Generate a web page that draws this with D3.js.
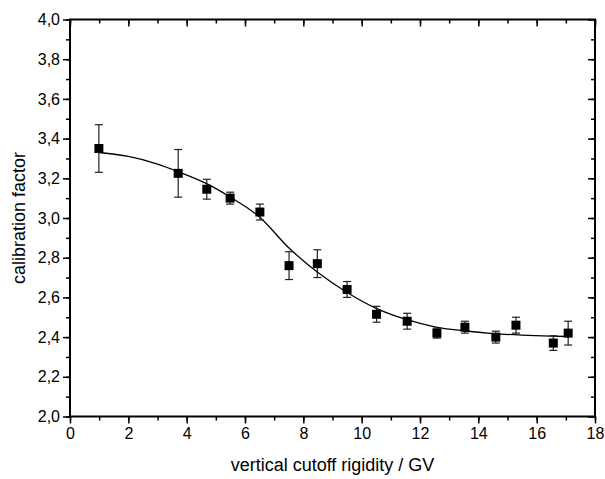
<!DOCTYPE html>
<html>
<head>
<meta charset="utf-8">
<script src="https://cdn.jsdelivr.net/npm/d3@7"></script>
<style>
  body { margin: 0; background: #fff; }
  svg { display: block; }
  text { font-family: "Liberation Sans", Arial, sans-serif; fill: #000; }
</style>
</head>
<body>
<div class="vis-chart"></div>
<script>
// measured points (vertical cutoff rigidity in GV, calibration factor, error)
const rigidity = [0.99, 3.71, 4.69, 5.49, 6.51, 7.51, 8.48, 9.5, 10.51, 11.56, 12.58, 13.54, 14.6, 15.29, 16.57, 17.08];
const calFactor = [3.35, 3.225, 3.145, 3.10, 3.03, 2.76, 2.77, 2.64, 2.515, 2.48, 2.42, 2.45, 2.40, 2.46, 2.37, 2.42];
const calError = [0.12, 0.12, 0.05, 0.03, 0.04, 0.07, 0.07, 0.04, 0.04, 0.04, 0.025, 0.03, 0.03, 0.04, 0.037, 0.06];

// fitted curve
const fitX = [1, 2, 3, 3.7, 4.7, 5.5, 6.5, 7.5, 8.5, 9.5, 10.5, 11.5, 12.5, 13.5, 14.5, 15.5, 16.5, 17.08];
const fitY = [3.330, 3.310, 3.272, 3.234, 3.172, 3.105, 3.005, 2.850, 2.725, 2.625, 2.545, 2.490, 2.452, 2.432, 2.418, 2.410, 2.405, 2.403];

const xTicks = [0, 2, 4, 6, 8, 10, 12, 14, 16, 18];
const yTicks = [2.0, 2.2, 2.4, 2.6, 2.8, 3.0, 3.2, 3.4, 3.6, 3.8, 4.0];

const margin = { top: 19.5, right: 10, bottom: 62.5, left: 70 };
const W = 605, H = 479;
const width = W - margin.left - margin.right;
const height = H - margin.top - margin.bottom;

const svg = d3.select(".vis-chart")
    .append("svg")
    .attr("width", W)
    .attr("height", H)
    .append("g")
    .attr("transform", "translate(" + margin.left + "," + margin.top + ")");

const x = d3.scaleLinear().domain([0, 18]).range([0, width]);
const y = d3.scaleLinear().domain([2.0, 4.0]).range([height, 0]);

const fmtY = d => d3.format(".1f")(d).replace(".", ",");
const minorX = d3.range(0, 18.01, 1);
const minorY = d3.range(2.0, 4.001, 0.1);

// minor ticks
svg.append("g").attr("class", "minor")
    .attr("transform", "translate(0," + height + ")")
    .call(d3.axisBottom(x).tickValues(minorX).tickSize(4).tickSizeOuter(0).tickFormat(""));
svg.append("g").attr("class", "minor")
    .call(d3.axisLeft(y).tickValues(minorY).tickSize(4).tickSizeOuter(0).tickFormat(""));
svg.append("g").attr("class", "minor")
    .call(d3.axisBottom(x).tickValues(minorX).tickSize(4).tickSizeOuter(0).tickFormat(""));
svg.append("g").attr("class", "minor")
    .attr("transform", "translate(" + width + ",0)")
    .call(d3.axisLeft(y).tickValues(minorY).tickSize(4).tickSizeOuter(0).tickFormat(""));

// major ticks + labels
svg.append("g").attr("class", "major")
    .attr("transform", "translate(0," + height + ")")
    .call(d3.axisBottom(x).tickValues(xTicks).tickSize(7).tickSizeOuter(0).tickPadding(4).tickFormat(d3.format("d")));
svg.append("g").attr("class", "major")
    .call(d3.axisLeft(y).tickValues(yTicks).tickSize(7).tickSizeOuter(0).tickPadding(3).tickFormat(fmtY));
svg.append("g").attr("class", "major")
    .call(d3.axisBottom(x).tickValues(xTicks).tickSize(7).tickSizeOuter(0).tickFormat(""));
svg.append("g").attr("class", "major")
    .attr("transform", "translate(" + width + ",0)")
    .call(d3.axisLeft(y).tickValues(yTicks).tickSize(7).tickSizeOuter(0).tickFormat(""));

svg.selectAll(".minor path, .major path").remove();
svg.selectAll(".minor line, .major line").attr("stroke", "#000").attr("stroke-width", 1.5);
svg.selectAll(".major text").style("font-size", "16px").attr("fill", "#000");

// frame
svg.append("rect")
    .attr("width", width)
    .attr("height", height)
    .attr("fill", "none")
    .attr("stroke", "#000")
    .attr("stroke-width", 2);

// fit curve
const fit = fitX.map((d, i) => [d, fitY[i]]);
svg.append("path")
    .datum(fit)
    .attr("fill", "none")
    .attr("stroke", "#000")
    .attr("stroke-width", 1.3)
    .attr("d", d3.line().x(d => x(d[0])).y(d => y(d[1])).curve(d3.curveMonotoneX));

// error bars
const pts = rigidity.map((d, i) => ({ x: d, y: calFactor[i], e: calError[i] }));
const eb = svg.selectAll(".err").data(pts).enter().append("g")
    .attr("class", "err")
    .attr("stroke", "#222")
    .attr("stroke-width", 1.2);
eb.append("line")
    .attr("x1", d => x(d.x)).attr("x2", d => x(d.x))
    .attr("y1", d => y(d.y + d.e)).attr("y2", d => y(d.y - d.e));
eb.append("line")
    .attr("x1", d => x(d.x) - 4).attr("x2", d => x(d.x) + 4)
    .attr("y1", d => y(d.y + d.e)).attr("y2", d => y(d.y + d.e));
eb.append("line")
    .attr("x1", d => x(d.x) - 4).attr("x2", d => x(d.x) + 4)
    .attr("y1", d => y(d.y - d.e)).attr("y2", d => y(d.y - d.e));

// markers
const s = 9;
svg.selectAll(".pt").data(pts).enter().append("rect")
    .attr("class", "pt")
    .attr("x", d => x(d.x) - s / 2)
    .attr("y", d => y(d.y) - s / 2)
    .attr("width", s)
    .attr("height", s)
    .attr("fill", "#000");

// axis titles
svg.append("text")
    .attr("x", width / 2)
    .attr("y", height + 54)
    .attr("text-anchor", "middle")
    .style("font-size", "18px")
    .text("vertical cutoff rigidity / GV");
svg.append("text")
    .attr("transform", "translate(" + (-45) + "," + (height / 2) + ")rotate(-90)")
    .attr("text-anchor", "middle")
    .style("font-size", "18px")
    .text("calibration factor");
</script>
</body>
</html>
